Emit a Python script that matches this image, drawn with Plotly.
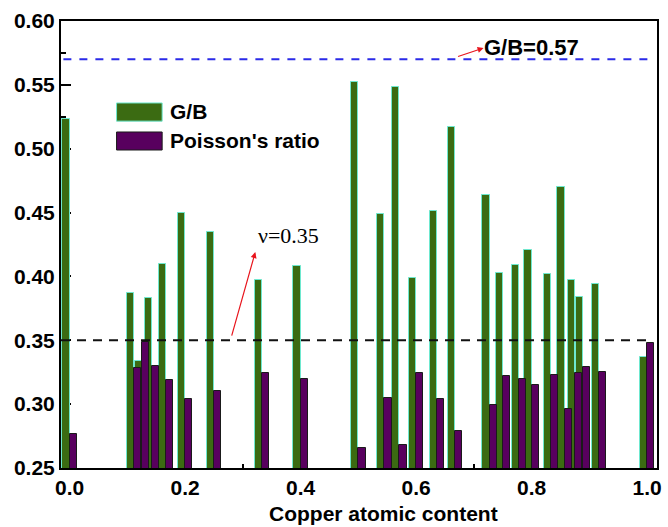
import plotly.graph_objects as go

# ---- data ----
copper_content = [0.0, 0.111, 0.125, 0.143, 0.167, 0.2, 0.25, 0.333, 0.4,
                  0.5, 0.545, 0.571, 0.6, 0.636, 0.667, 0.727, 0.75, 0.778,
                  0.8, 0.833, 0.857, 0.875, 0.889, 0.917, 1.0]
gb_ratio = [0.523, 0.387, 0.334, 0.383, 0.410, 0.450, 0.435, 0.397, 0.408,
            0.552, 0.449, 0.548, 0.399, 0.451, 0.517, 0.464, 0.403, 0.409,
            0.421, 0.402, 0.470, 0.397, 0.384, 0.394, 0.337]
poisson_ratio = [0.277, 0.328, 0.349, 0.330, 0.319, 0.304, 0.310, 0.324, 0.320,
                 0.266, 0.305, 0.268, 0.324, 0.304, 0.279, 0.299, 0.322, 0.320,
                 0.315, 0.3225, 0.296, 0.324, 0.329, 0.325, 0.348]
GB_LIMIT = 0.57
NU_LIMIT = 0.35
x_ticks = [0.0, 0.2, 0.4, 0.6, 0.8, 1.0]
x_tick_labels = ["0.0", "0.2", "0.4", "0.6", "0.8", "1.0"]

# ---- style ----
W = 0.0125
GREEN = "#3b6b12"
GREEN_EDGE = "#6ee8cf"
PURPLE = "#58005e"
PURPLE_EDGE = "#1a1a1a"
SANS = "Liberation Sans, Arial, sans-serif"
SERIF = "Liberation Serif, Times New Roman, serif"

fig = go.Figure()
fig.add_trace(go.Bar(x=copper_content, y=gb_ratio, width=W, offset=-W, name="G/B",
                     marker=dict(color=GREEN, line=dict(color=GREEN_EDGE, width=1)),
                     showlegend=False))
fig.add_trace(go.Bar(x=copper_content, y=poisson_ratio, width=W, offset=0,
                     name="Poisson's ratio",
                     marker=dict(color=PURPLE, line=dict(color=PURPLE_EDGE, width=1)),
                     showlegend=False))

# reference lines
fig.add_shape(type="line", xref="paper", yref="y", x0=0.004, x1=0.988,
              y0=GB_LIMIT, y1=GB_LIMIT, line=dict(color="#2a2ae8", width=2, dash="8px,8px"))
fig.add_shape(type="line", xref="paper", yref="y", x0=0.0, x1=0.992,
              y0=NU_LIMIT, y1=NU_LIMIT, line=dict(color="#111111", width=2, dash="9px,7px"))

# custom legend
fig.add_shape(type="rect", xref="paper", yref="paper", x0=0.0932, x1=0.1697,
              y0=0.776, y1=0.8166, fillcolor=GREEN, line=dict(color=GREEN_EDGE, width=1))
fig.add_shape(type="rect", xref="paper", yref="paper", x0=0.0932, x1=0.1697,
              y0=0.7114, y1=0.7517, fillcolor=PURPLE, line=dict(color=PURPLE_EDGE, width=1))
fig.add_annotation(xref="paper", yref="paper", x=0.179, y=0.798, xanchor="left",
                   yanchor="middle", text="G/B", showarrow=False,
                   font=dict(family=SANS, size=21, color="black", weight="bold"))
fig.add_annotation(xref="paper", yref="paper", x=0.179, y=0.733, xanchor="left",
                   yanchor="middle", text="Poisson's ratio", showarrow=False,
                   font=dict(family=SANS, size=21, color="black", weight="bold"))

# text labels
fig.add_annotation(xref="paper", yref="paper", x=0.790, y=0.9418, text="G/B=0.57",
                   xanchor="center", yanchor="middle",
                   showarrow=False, font=dict(family=SANS, size=22, color="black", weight="bold"))
fig.add_annotation(xref="paper", yref="paper", x=0.381, y=0.521, text="ν=0.35",
                   xanchor="center", yanchor="middle",
                   showarrow=False, font=dict(family=SERIF, size=22, color="black"))
# arrows
fig.add_annotation(xref="paper", yref="paper", x=0.709, y=0.9396, ax=-27, ay=9, text="",
                   showarrow=True, arrowhead=2, arrowsize=1, arrowwidth=1.2, arrowcolor="#e8141c")
fig.add_annotation(xref="paper", yref="paper", x=0.326, y=0.483, ax=-24, ay=85, text="",
                   showarrow=True, arrowhead=2, arrowsize=1, arrowwidth=1.2, arrowcolor="#e8141c")

# x title
fig.add_annotation(xref="paper", yref="paper", x=0.5408, y=-0.1018, text="Copper atomic content",
                   xanchor="center", yanchor="middle",
                   showarrow=False, font=dict(family=SANS, size=21, color="black", weight="bold"))

fig.update_layout(
    width=668, height=527,
    margin=dict(l=61, r=6, t=21, b=59),
    paper_bgcolor="white", plot_bgcolor="white",
    barmode="overlay", bargap=0,
    showlegend=False,
)
fig.update_xaxes(range=[-0.015, 1.017], tickvals=x_ticks, ticktext=x_tick_labels,
                 ticks="inside", ticklen=8, tickwidth=2, tickcolor="black",
                 minor=dict(dtick=0.1, tick0=0, ticks="inside", ticklen=4, tickwidth=2, tickcolor="black"),
                 showline=True, linecolor="black", linewidth=2, mirror=True,
                 showgrid=False, zeroline=False, layer="below traces",
                 tickfont=dict(family=SANS, size=21, color="black", weight="bold"))
fig.update_yaxes(range=[0.25, 0.60], dtick=0.05, tick0=0.25, tickformat=".2f",
                 ticks="inside", ticklen=10, tickwidth=2, tickcolor="black",
                 minor=dict(dtick=0.025, tick0=0.25, ticks="inside", ticklen=5, tickwidth=2, tickcolor="black"),
                 showline=True, linecolor="black", linewidth=2, mirror=True,
                 showgrid=False, zeroline=False, layer="below traces",
                 tickfont=dict(family=SANS, size=21, color="black", weight="bold"))

fig.write_html("out.html")
